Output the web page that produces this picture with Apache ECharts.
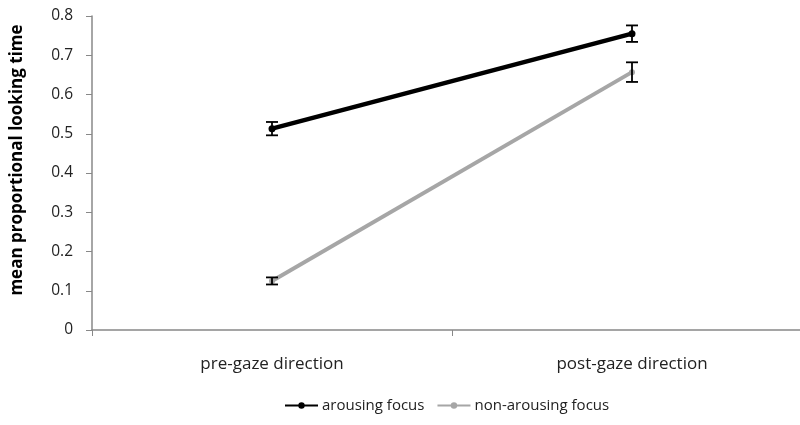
<!DOCTYPE html>
<html><head><meta charset="utf-8">
<script src="https://cdn.jsdelivr.net/npm/echarts@6/dist/echarts.min.js"></script>
<style>html,body{margin:0;padding:0;background:#fff}#c{width:800px;height:425px}</style>
</head><body><div id="c"></div>
<script>
var categories = ['pre-gaze direction', 'post-gaze direction'];
var arousing = [0.513, 0.755];
var arousingErr = [0.017, 0.021];
var nonArousing = [0.125, 0.657];
var nonArousingErr = [0.009, 0.025];
var yTicks = [0, 0.1, 0.2, 0.3, 0.4, 0.5, 0.6, 0.7, 0.8];

function errSeries(vals, errs, color) {
  return {
    type: 'custom',
    silent: true,
    z: 5,
    data: vals.map(function (v, i) { return [i, v - errs[i], v + errs[i]]; }),
    renderItem: function (params, api) {
      var lo = api.coord([api.value(0), api.value(1)]);
      var hi = api.coord([api.value(0), api.value(2)]);
      var hw = 6;
      var st = { stroke: color, lineWidth: 1.8 };
      return { type: 'group', children: [
        { type: 'line', shape: { x1: lo[0], y1: lo[1], x2: hi[0], y2: hi[1] }, style: st },
        { type: 'line', shape: { x1: lo[0] - hw, y1: lo[1], x2: lo[0] + hw, y2: lo[1] }, style: st },
        { type: 'line', shape: { x1: hi[0] - hw, y1: hi[1], x2: hi[0] + hw, y2: hi[1] }, style: st }
      ]};
    }
  };
}

var chart = echarts.init(document.getElementById('c'));
chart.setOption({
  animation: false,
  grid: { left: 92, top: 16, width: 720, height: 314, outerBoundsMode: 'none', containLabel: false },
  legend: {
    bottom: 7,
    left: 279,
    itemWidth: 33,
    itemHeight: 8,
    itemGap: 12,
    textStyle: { fontFamily: 'Open Sans', fontSize: 15, color: '#222', padding: [0, 0, 0, -1] },
    data: ['arousing focus', 'non-arousing focus']
  },
  xAxis: {
    type: 'category',
    data: categories,
    boundaryGap: true,
    axisLine: { lineStyle: { color: '#888', width: 1.5 } },
    axisTick: { show: true, length: 6, lineStyle: { color: '#888' } },
    axisLabel: { margin: 26, fontFamily: 'Open Sans', fontSize: 17, color: '#222' }
  },
  yAxis: {
    type: 'value',
    min: 0, max: 0.8, interval: 0.1,
    name: 'mean proportional looking time',
    nameLocation: 'middle',
    nameGap: 66,
    nameRotate: 90,
    nameTextStyle: { fontFamily: 'Open Sans', fontWeight: 'bold', fontSize: 17, color: '#000', padding: [0, 0, 0, 26] },
    axisLine: { show: true, lineStyle: { color: '#888', width: 1.5 } },
    axisTick: { show: true, length: 6, lineStyle: { color: '#888' } },
    splitLine: { show: false },
    axisLabel: {
      margin: 19, fontFamily: 'Open Sans', fontSize: 15.5, color: '#222',
      formatter: function (v) { return Math.abs(v) < 1e-9 ? '0' : String(+v.toFixed(1)); }
    }
  },
  series: [
    { name: 'arousing focus', type: 'line', data: arousing, symbol: 'circle', symbolSize: 7,
      lineStyle: { color: '#000', width: 4.5 }, itemStyle: { color: '#000' }, z: 4 },
    { name: 'non-arousing focus', type: 'line', data: nonArousing, symbol: 'circle', symbolSize: 6,
      lineStyle: { color: '#a6a6a6', width: 4 }, itemStyle: { color: '#a6a6a6' }, z: 3 },
    errSeries(arousing, arousingErr, '#000'),
    errSeries(nonArousing, nonArousingErr, '#000')
  ]
});
</script></body></html>
